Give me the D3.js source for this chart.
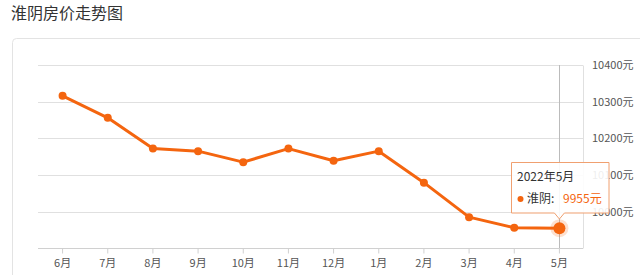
<!DOCTYPE html>
<html><head><meta charset="utf-8">
<script src="https://cdn.jsdelivr.net/npm/d3@7"></script>
<style>
html,body{margin:0;padding:0;background:#fff;}
svg{display:block;font-family:"Noto Sans CJK SC","Noto Sans",sans-serif;}
</style></head>
<body>
<svg id="c" width="640" height="275"></svg>
<script>
const title = "淮阴房价走势图";
const months = ["6月","7月","8月","9月","10月","11月","12月","1月","2月","3月","4月","5月"];
const prices = [10316,10256,10172,10165,10135,10172,10139,10165,10079,9985,9956,9955];
const yTicks = [9900,10000,10100,10200,10300,10400];
const seriesName = "淮阴";
const tipTitle = "2022年5月";
const unit = "元";

const svg = d3.select("#c");
const orange = "#f4650f";

svg.append("text").attr("x",11).attr("y",19).attr("font-size",16).attr("fill","#333").text(title);

svg.append("rect").attr("x",12.5).attr("y",38.5).attr("width",700).attr("height",300)
  .attr("rx",4).attr("fill","none").attr("stroke","#e3e3e3");

const x = d3.scaleBand().domain(months).range([40,582]);
const y = d3.scaleLinear().domain([9900,10400]).range([248.3,65]);
const cx = d => x(d) + x.bandwidth()/2;

// grid
svg.append("g").selectAll("line").data(yTicks.slice(1)).join("line")
  .attr("x1",38).attr("x2",583)
  .attr("y1",d=>Math.round(y(d))+0.5).attr("y2",d=>Math.round(y(d))+0.5)
  .attr("stroke","#e0e0e0");
// right border
svg.append("line").attr("x1",583.5).attr("x2",583.5).attr("y1",Math.round(y(10400))+0.5).attr("y2",248.5)
  .attr("stroke","#e0e0e0");

// y labels
svg.append("g").selectAll("text").data(yTicks.slice(1)).join("text")
  .attr("x",592).attr("y",d=>y(d)+4).attr("font-size",11).attr("fill","#555")
  .text(d=>d+unit);

// x axis
const xa = svg.append("g").attr("transform","translate(0,248.5)")
  .call(d3.axisBottom(x).tickSize(5).tickSizeOuter(0).tickPadding(6));
xa.select(".domain").attr("stroke","#d0d0d0").attr("d","M38,0H583");
xa.selectAll(".tick line").attr("stroke","#d0d0d0");
xa.selectAll(".tick text").attr("font-size",11).attr("fill","#555").attr("font-family","Noto Sans CJK SC, Noto Sans, sans-serif");

// crosshair
const last = months[months.length-1];
svg.append("line").attr("x1",Math.round(cx(last))+0.5).attr("x2",Math.round(cx(last))+0.5)
  .attr("y1",65).attr("y2",248).attr("stroke","#bbb");

// line
const line = d3.line().x((d,i)=>cx(months[i])).y(d=>y(d));
svg.append("path").datum(prices).attr("d",line).attr("fill","none")
  .attr("stroke",orange).attr("stroke-width",3).attr("stroke-linejoin","round");
svg.append("g").selectAll("circle").data(prices.slice(0,-1)).join("circle")
  .attr("cx",(d,i)=>cx(months[i])).attr("cy",d=>y(d)).attr("r",4).attr("fill",orange);
// hovered point
const lv = prices[prices.length-1];
svg.append("circle").attr("cx",cx(last)).attr("cy",y(lv)).attr("r",9).attr("fill",orange).attr("opacity",0.2);
svg.append("circle").attr("cx",cx(last)).attr("cy",y(lv)).attr("r",6).attr("fill",orange);

// tooltip
const tx = 511, ty = 162, tw = 98, th = 51, ax = cx(last);
const tp = svg.append("g");
tp.append("path")
  .attr("d",`M${tx+0.5},${ty+0.5}H${tx+tw}V${ty+th}H${ax+5}L${ax},${ty+th+6}L${ax-5},${ty+th}H${tx+0.5}Z`)
  .attr("fill","rgba(255,255,255,0.9)").attr("stroke","#f0a070").attr("stroke-width",1);
tp.append("text").attr("x",517).attr("y",181).attr("font-size",12).attr("fill","#333").text(tipTitle);
tp.append("circle").attr("cx",520.5).attr("cy",199).attr("r",3).attr("fill",orange);
tp.append("text").attr("x",527).attr("y",203).attr("font-size",12).attr("fill","#333").text(seriesName+":");
tp.append("text").attr("x",563).attr("y",203).attr("font-size",12).attr("fill",orange).text(lv+unit);
</script>
</body></html>
